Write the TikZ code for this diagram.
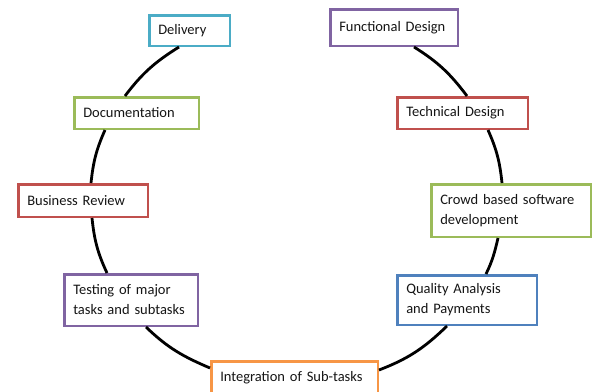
\documentclass[tikz,border=0pt]{standalone}
\usepackage{fontspec}
\setmainfont{Carlito}
\definecolor{cCyan}{HTML}{4BACC6}
\definecolor{cPurple}{HTML}{8064A2}
\definecolor{cGreen}{HTML}{9BBB59}
\definecolor{cRed}{HTML}{C0504D}
\definecolor{cBlue}{HTML}{4F81BD}
\definecolor{cOrange}{HTML}{F79646}
\definecolor{cText}{HTML}{151515}
\tikzset{
  box/.style={draw=#1, line width=2.5pt, fill=white, align=left, inner xsep=9pt, inner ysep=0pt,
    text=cText, font=\fontsize{14.5pt}{20pt}\selectfont},
  link/.style={line width=2.8pt, black}
}
\begin{document}
\begin{tikzpicture}[x=1pt,y=1pt]
\useasboundingbox (0,0) rectangle (594,-391);
% nodes
\node[box=cCyan,   text width=62.5pt,  minimum height=30.5pt] (deliv) at (189.5,-30.5) {Delivery};
\node[box=cPurple, text width=109.5pt, minimum height=36.5pt] (func)  at (394,-27.5)  {Functional Design};
\node[box=cGreen,  text width=106.5pt, minimum height=31.5pt] (docu)  at (136.5,-113) {Documentation};
\node[box=cRed,    text width=112.5pt, minimum height=31.5pt] (tech)  at (462.5,-113) {Technical Design};
\node[box=cRed,    text width=111.5pt, minimum height=32.5pt] (busi)  at (83,-200.5)  {Business Review};
\node[box=cGreen,  text width=141.5pt, minimum height=52.5pt] (crowd) at (511,-210.5) {Crowd based software\\development};
\node[box=cPurple, text width=115.5pt, minimum height=51.5pt] (test)  at (131,-300)   {Testing of major\\tasks and subtasks};
\node[box=cBlue,   text width=121.5pt, minimum height=49.5pt] (qual)  at (467,-300)   {Quality Analysis\\and Payments};
\node[box=cOrange, text width=148.5pt, minimum height=33.5pt] (integ) at (294.5,-378) {Integration of Sub-tasks};
% connectors
\draw[link] ([xshift=-10.5pt]deliv.south) to[out=212,in=53] ([xshift=-11.5pt]docu.north);
\draw[link] ([xshift=-31.5pt]docu.south) to[out=246,in=84] ([xshift=8pt]busi.north);
\draw[link] ([xshift=9pt]busi.south) to[out=276,in=115] ([xshift=-24pt]test.north);
\draw[link] ([xshift=15pt]test.south) to[out=316,in=157] ([yshift=-8pt]integ.north west);
\draw[link] ([yshift=-10pt]integ.north east) to[out=21,in=224] ([xshift=-20pt]qual.south);
\draw[link] ([xshift=19pt]qual.north) to[out=64,in=257] ([xshift=-13pt]crowd.south);
\draw[link] ([xshift=-9pt]crowd.north) to[out=96,in=294] ([xshift=25.5pt]tech.south);
\draw[link] ([xshift=4.5pt]tech.north) to[out=127,in=328] ([xshift=20pt]func.south);
\end{tikzpicture}
\end{document}
